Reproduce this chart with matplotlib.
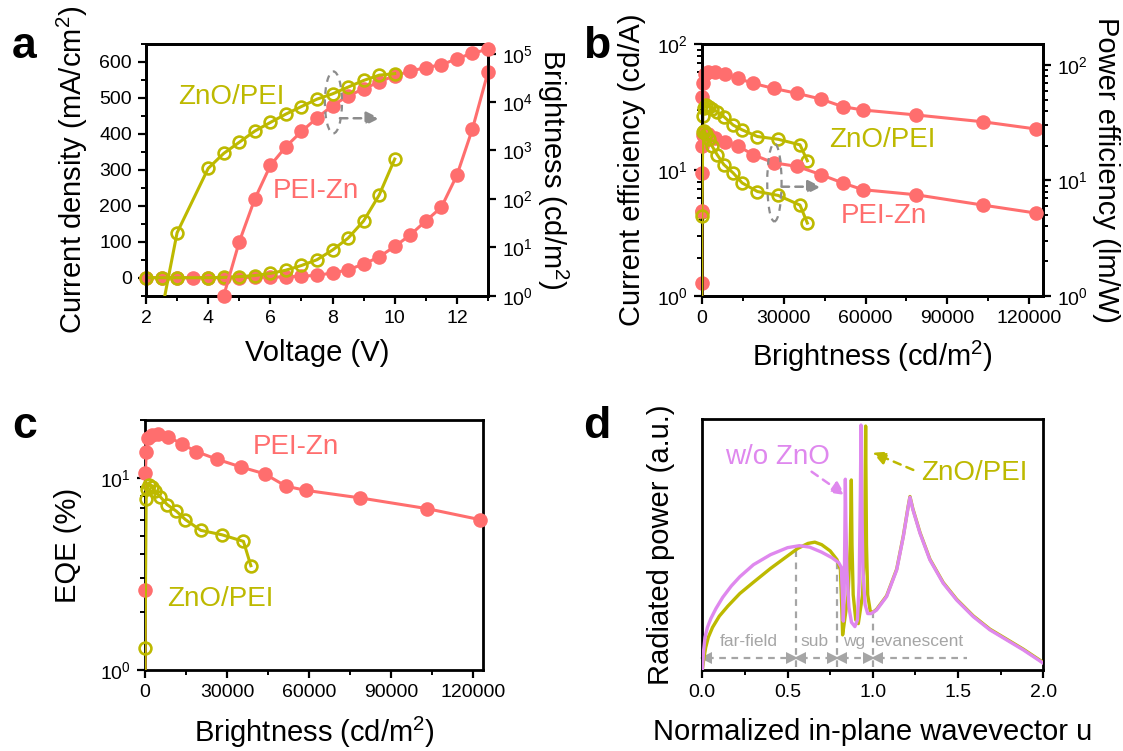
import numpy as np
import matplotlib
matplotlib.use("Agg")
import matplotlib.pyplot as plt
from matplotlib.patches import Ellipse
from matplotlib.ticker import MultipleLocator, LogLocator, NullLocator, NullFormatter

plt.rcParams['font.family'] = ['Liberation Sans', 'DejaVu Sans']
plt.rcParams['mathtext.fontset'] = 'custom'
plt.rcParams['mathtext.rm'] = 'Liberation Sans'
plt.rcParams['mathtext.it'] = 'Liberation Sans:italic'
plt.rcParams['mathtext.bf'] = 'Liberation Sans:bold'

# colours
RED = '#FF6E6E'
OLIVE = '#BDB900'
PINK = '#DF88EE'
GRAY = '#8C8C8C'
LGRAY = '#A5A5A5'

# ---- panel a : J-V-L ----
v_red = [2, 2.5, 3, 3.5, 4, 4.5, 5, 5.5, 6, 6.5, 7, 7.5, 8, 8.5, 9, 9.5, 10,
         10.5, 11, 11.5, 12, 12.5, 13]
j_red = [0, 0, 0, 0, 0, 0, 0.5, 1, 1.5, 2.5, 4, 7, 13, 22, 38, 58, 87,
         119, 158, 196, 285, 414, 572]
v_zno_j = [2, 2.5, 3, 4, 4.5, 5, 5.5, 6, 6.5, 7, 7.5, 8, 8.5, 9, 9.5, 10]
j_zno = [0, 0, 0, 0, 1, 3, 6, 12, 21, 34, 50, 77, 110, 158, 230, 330]

v_red_l = [4.5, 5, 5.5, 6, 6.5, 7, 7.5, 8, 8.5, 9, 9.5, 10, 10.5, 11, 11.5, 12, 12.5, 13]
lum_red = [1, 13, 100, 490, 1200, 2470, 4700, 8450, 13450, 18750, 26300, 35000,
           43700, 51600, 59000, 78500, 103000, 122500]
v_zno_l = [2.5, 3, 4, 4.5, 5, 5.5, 6, 6.5, 7, 7.5, 8, 8.5, 9, 9.5, 10]
lum_zno = [0.45, 20, 427, 871, 1480, 2520, 3800, 5650, 8100, 11500, 14800,
           20400, 28000, 36000, 38700]

# ---- panel b : efficiencies vs brightness ----
ce_red = [1.27, 9.4, 37.8, 48.8, 57.5, 59.5, 60.3, 57.6, 53.3, 48.7, 44.4, 40.5,
          36.5, 31.8, 29.9, 27.3, 24.1, 21.1]
pe_red = [0.88, 5.4, 20, 24.5, 25.5, 25, 23.5, 21.5, 19.8, 16.7, 14.2, 13.2,
          11.2, 9.5, 8.3, 7.5, 6.1, 5.2]
ce_zno = [0.3, 4.65, 27, 31, 32.5, 31.8, 30.3, 29.0, 26.5, 22.7, 20.8, 18.4,
          17.5, 15.8, 11.8]
pe_zno = [0.38, 4.9, 26, 27, 25, 22.6, 19.8, 16.7, 13.7, 11.6, 9.5, 8.0,
          7.4, 6.1, 4.26]

# ---- panel c : EQE ----
eqe_red = [0.36, 2.61, 10.6, 13.6, 16.2, 16.7, 17.0, 16.4, 15.0, 13.7, 12.5,
           11.4, 10.5, 9.04, 8.6, 7.87, 6.92, 6.06]
eqe_zno = [0.08, 1.3, 7.77, 8.8, 9.2, 9.0, 8.5, 7.95, 7.26, 6.7, 6.06, 5.33,
           5.06, 4.67, 3.49]

# ---- panel d : radiated power spectra ----
u_pink = [0.0, 0.008, 0.016, 0.03, 0.05, 0.08, 0.12, 0.17, 0.22, 0.3, 0.4, 0.5,
          0.57, 0.63, 0.7, 0.76, 0.8, 0.815, 0.822, 0.827, 0.832, 0.836, 0.839,
          0.842, 0.848, 0.86, 0.875, 0.895, 0.91, 0.92, 0.927, 0.931, 0.935,
          0.942, 0.955, 0.97, 0.99, 1.022, 1.081, 1.14, 1.179, 1.208, 1.218,
          1.235, 1.277, 1.335, 1.413, 1.492, 1.589, 1.687, 1.785, 1.883, 2.0]
p_pink = [0.0, 0.08, 0.13, 0.17, 0.205, 0.245, 0.29, 0.335, 0.372, 0.42, 0.46,
          0.488, 0.496, 0.49, 0.47, 0.448, 0.428, 0.41, 0.3, 0.195, 0.3, 0.55,
          0.761, 0.6, 0.4, 0.25, 0.19, 0.173, 0.2, 0.35, 0.7, 0.977, 0.7, 0.4,
          0.26, 0.225, 0.225, 0.239, 0.293, 0.399, 0.532, 0.652, 0.689, 0.64,
          0.545, 0.439, 0.346, 0.279, 0.213, 0.16, 0.12, 0.08, 0.027]
u_olive = [0.0, 0.01, 0.02, 0.035, 0.06, 0.1, 0.15, 0.22, 0.3, 0.4, 0.5, 0.56,
           0.62, 0.66, 0.7, 0.75, 0.79, 0.81, 0.818, 0.823, 0.835, 0.855, 0.868,
           0.874, 0.878, 0.885, 0.9, 0.915, 0.94, 0.952, 0.958, 0.963, 0.97,
           0.985, 1.0, 1.022, 1.081, 1.14, 1.179, 1.208, 1.218, 1.235, 1.277,
           1.335, 1.413, 1.492, 1.589, 1.687, 1.785, 1.883, 2.0]
p_olive = [0.0, 0.05, 0.09, 0.13, 0.17, 0.215, 0.255, 0.305, 0.35, 0.405, 0.455,
           0.485, 0.505, 0.51, 0.5, 0.475, 0.44, 0.4, 0.25, 0.14, 0.2, 0.3, 0.5,
           0.758, 0.5, 0.3, 0.2, 0.185, 0.3, 0.5, 0.973, 0.5, 0.3, 0.235, 0.23,
           0.242, 0.296, 0.402, 0.535, 0.655, 0.692, 0.643, 0.548, 0.442, 0.349,
           0.282, 0.216, 0.163, 0.123, 0.083, 0.03]
region_edges = [0.0, 0.55, 0.79, 1.0, 1.55]
region_names = ['far-field', 'sub', 'wg', 'evanescent']


def series(ax, x, y, color, filled, zo):
    x = np.asarray(x, float)
    y = np.asarray(y, float)
    ax.plot(x, y, color=color, lw=2.2, zorder=zo)
    lo = ax.get_ylim()[0]
    m = y >= lo * 0.999
    ax.plot(x[m], y[m], ls='none', marker='o', ms=10.5 if filled else 8.5,
            mfc=color if filled else 'none', mec=color, mew=0 if filled else 1.9,
            zorder=zo + 0.1, clip_on=False)


def style(ax):
    for s in ax.spines.values():
        s.set_linewidth(2)
    ax.tick_params(which='major', length=6, width=1.6, labelsize=14, direction='out',
                   pad=4)
    ax.tick_params(which='minor', length=3.5, width=1.4, direction='out')


def dashed_arrow(ax, x0, y0, x1, y1, color, trans):
    ax.annotate('', xy=(x1, y1), xytext=(x0, y0), xycoords=trans, textcoords=trans,
                arrowprops=dict(arrowstyle='-|>', ls=(0, (3, 2.5)), color=color,
                                lw=1.8, mutation_scale=20, shrinkA=0, shrinkB=0),
                zorder=10)


fig = plt.figure(figsize=(11.23, 7.51), dpi=100)
W, H = 1123, 751

# ---------------- a ----------------
ax = fig.add_axes([146 / W, (H - 295.7) / H, 342 / W, 251.7 / H])
ax2 = ax.twinx()
ax.set_xlim(2, 13)
ax.set_ylim(-50, 650)
ax2.set_yscale('log')
ax2.set_ylim(1, 10 ** 5.2)
series(ax, v_red, j_red, RED, True, 3)
series(ax, v_zno_j, j_zno, OLIVE, False, 4)
series(ax2, v_red_l, lum_red, RED, True, 3)
series(ax2, v_zno_l, lum_zno, OLIVE, False, 4)
ax.set_xticks([2, 4, 6, 8, 10, 12])
ax.xaxis.set_minor_locator(MultipleLocator(1))
ax.set_yticks(range(0, 601, 100))
ax.yaxis.set_minor_locator(MultipleLocator(50))
ax2.yaxis.set_major_locator(LogLocator(base=10, numticks=10))
ax2.yaxis.set_minor_locator(NullLocator())
style(ax)
style(ax2)
ax.set_xlabel('Voltage (V)', fontsize=21, labelpad=9)
ax.set_ylabel('Current density (mA/cm$^2$)', fontsize=21, labelpad=7)
ax2.set_ylabel('Brightness (cd/m$^2$)', fontsize=21, rotation=270, labelpad=27)
ax2.text(0.094, 0.79, 'ZnO/PEI', color=OLIVE, fontsize=20, transform=ax2.transAxes,
         va='center')
ax2.text(0.372, 0.417, 'PEI-Zn', color=RED, fontsize=20, transform=ax2.transAxes,
         va='center')
ax2.add_patch(Ellipse((0.548, 0.768), 0.05, 0.246, transform=ax2.transAxes,
                      fill=False, ec=GRAY, lw=1.6, ls=(0, (3, 2.5)), zorder=10))
dashed_arrow(ax2, 0.567, 0.705, 0.683, 0.705, GRAY, 'axes fraction')

# ---------------- b ----------------
ax = fig.add_axes([701.7 / W, (H - 295.7) / H, 341.3 / W, 251.7 / H])
ax2 = ax.twinx()
ax.set_xlim(0, 125000)
ax.set_yscale('log')
ax.set_ylim(1, 100)
ax2.set_yscale('log')
ax2.set_ylim(1, 152)
series(ax, lum_red, ce_red, RED, True, 3)
series(ax, lum_zno, ce_zno, OLIVE, False, 4)
series(ax2, lum_red, pe_red, RED, True, 3)
series(ax2, lum_zno, pe_zno, OLIVE, False, 4)
ax.set_xticks(range(0, 120001, 30000))
ax.xaxis.set_minor_locator(MultipleLocator(15000))
for a_ in (ax, ax2):
    a_.yaxis.set_major_locator(LogLocator(base=10, numticks=10))
    a_.yaxis.set_minor_locator(LogLocator(base=10, subs=np.arange(2, 10), numticks=10))
    a_.yaxis.set_minor_formatter(NullFormatter())
    style(a_)
ax.set_xlabel('Brightness (cd/m$^2$)', fontsize=21, labelpad=9)
ax.set_ylabel('Current efficiency (cd/A)', fontsize=21, labelpad=8)
ax2.set_ylabel('Power efficiency (lm/W)', fontsize=21, rotation=270, labelpad=23)
ax2.text(0.374, 0.619, 'ZnO/PEI', color=OLIVE, fontsize=20, transform=ax2.transAxes,
         va='center')
ax2.text(0.407, 0.317, 'PEI-Zn', color=RED, fontsize=20, transform=ax2.transAxes,
         va='center')
ax2.add_patch(Ellipse((0.213, 0.45), 0.042, 0.31, transform=ax2.transAxes,
                      fill=False, ec=GRAY, lw=1.6, ls=(0, (3, 2.5)), zorder=10))
dashed_arrow(ax2, 0.234, 0.433, 0.35, 0.433, GRAY, 'axes fraction')

# ---------------- c ----------------
ax = fig.add_axes([145 / W, (H - 670) / H, 338.3 / W, 250 / H])
ax.set_xlim(0, 123700)
ax.set_yscale('log')
ax.set_ylim(1, 20)
series(ax, lum_red, eqe_red, RED, True, 3)
series(ax, lum_zno, eqe_zno, OLIVE, False, 4)
ax.set_xticks(range(0, 120001, 30000))
ax.xaxis.set_minor_locator(MultipleLocator(15000))
ax.yaxis.set_major_locator(LogLocator(base=10, numticks=10))
ax.yaxis.set_minor_locator(LogLocator(base=10, subs=np.arange(2, 10), numticks=10))
ax.yaxis.set_minor_formatter(NullFormatter())
style(ax)
ax.set_xlabel('Brightness (cd/m$^2$)', fontsize=21, labelpad=10)
ax.set_ylabel('EQE (%)', fontsize=21, labelpad=13)
ax.text(0.318, 0.893, 'PEI-Zn', color=RED, fontsize=20, transform=ax.transAxes,
        va='center')
ax.text(0.064, 0.284, 'ZnO/PEI', color=OLIVE, fontsize=20, transform=ax.transAxes,
        va='center')

# ---------------- d ----------------
ax = fig.add_axes([702.3 / W, (H - 670) / H, 341 / W, 250.7 / H])
ax.set_xlim(0, 2)
ax.set_ylim(0, 1)
ax.plot(u_olive, p_olive, color=OLIVE, lw=2.4, zorder=3)
ax.plot(u_pink, p_pink, color=PINK, lw=2.4, zorder=4)
ax.set_xticks([0, 0.5, 1.0, 1.5, 2.0])
ax.xaxis.set_minor_locator(MultipleLocator(0.25))
ax.set_yticks([])
style(ax)
ax.set_xlabel('Normalized in-plane wavevector u', fontsize=21, labelpad=12)
ax.set_ylabel('Radiated power (a.u.)', fontsize=21, labelpad=20)

dash = (0, (3, 2.5))
for e in region_edges[1:4]:
    top = np.interp(e, u_pink, p_pink)
    ax.plot([e, e], [0.01, top], color=LGRAY, lw=1.6, ls=dash, zorder=2)
ya = 0.047
for k in range(4):
    x0, x1 = region_edges[k], region_edges[k + 1]
    ax.plot([x0 + 0.03, x1 - (0.03 if k < 3 else 0)], [ya, ya], color=LGRAY,
            lw=1.6, ls=dash, zorder=2)
    ax.plot([x0 + 0.022], [ya], marker='<', ms=8, color=LGRAY, mew=0, zorder=2,
            clip_on=False)
    if k < 3:
        ax.plot([x1 - 0.022], [ya], marker='>', ms=8, color=LGRAY, mew=0, zorder=2)
label_u = [0.27, 0.661, 0.89, 1.267]
for name, xu in zip(region_names, label_u):
    ax.text(xu, 0.113, name, color=LGRAY, fontsize=12.5, ha='center', va='center')

ax.text(0.133, 0.85, 'w/o ZnO', color=PINK, fontsize=20, va='center')
ax.text(1.286, 0.785, 'ZnO/PEI', color=OLIVE, fontsize=20, va='center')
dashed_arrow(ax, 0.641, 0.791, 0.837, 0.698, PINK, 'data')
dashed_arrow(ax, 1.2375, 0.798, 0.999, 0.867, OLIVE, 'data')

# panel letters
for letter, x, y in [('a', 12, 58), ('b', 583, 58), ('c', 12, 438), ('d', 583, 438)]:
    fig.text(x / W, (H - y) / H, letter, fontsize=32, fontweight='bold',
             va='baseline', ha='left')

fig.savefig('out.png', dpi=100)
